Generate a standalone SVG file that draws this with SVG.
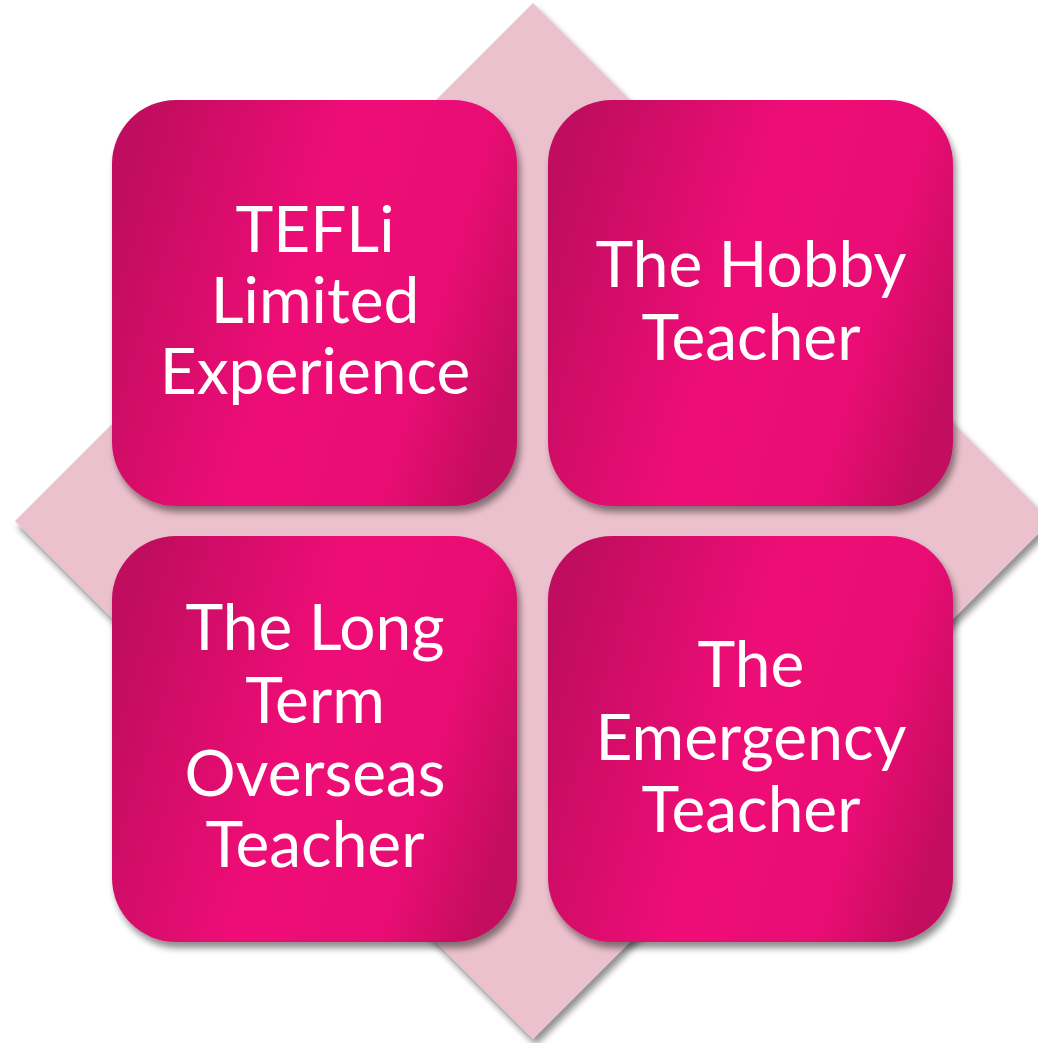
<svg xmlns="http://www.w3.org/2000/svg" width="1038" height="1043" viewBox="0 0 1038 1043">
  <defs>
    <linearGradient id="tileFill" x1="0" y1="0.35" x2="1" y2="0.65">
      <stop offset="0" stop-color="#c1105f"/>
      <stop offset="0.45" stop-color="#ee0a76"/>
      <stop offset="0.78" stop-color="#e90a73"/>
      <stop offset="1" stop-color="#c3105e"/>
    </linearGradient>
    <filter id="shadow" x="-10%" y="-10%" width="125%" height="125%">
      <feGaussianBlur in="SourceAlpha" stdDeviation="3.5"/>
      <feOffset dx="3" dy="6" result="off"/>
      <feComponentTransfer><feFuncA type="linear" slope="0.45"/></feComponentTransfer>
      <feMerge><feMergeNode/><feMergeNode in="SourceGraphic"/></feMerge>
    </filter>
    <style>
      .tile { fill: url(#tileFill); filter: url(#shadow); }
      .label { font-family: "Lato", "Open Sans", "Liberation Sans", sans-serif; font-size: 64px; fill: #ffffff; text-anchor: middle; }
    </style>
  </defs>

  <!-- background diamond -->
  <polygon id="diamond" points="533,3 1051,521 533,1039 15,521" fill="#ebc1cd" filter="url(#shadow)"/>

  <g id="tile-tefli">
    <rect class="tile" x="112" y="100" width="405" height="406" rx="64"/>
    <text class="label" x="315" y="252">TEFLi</text>
    <text class="label" x="315" y="323">Limited</text>
    <text class="label" x="315" y="394">Experience</text>
  </g>

  <g id="tile-hobby">
    <rect class="tile" x="548" y="100" width="405" height="406" rx="64"/>
    <text class="label" x="751" y="287">The Hobby</text>
    <text class="label" x="751" y="360">Teacher</text>
  </g>

  <g id="tile-long-term">
    <rect class="tile" x="112" y="536" width="405" height="406" rx="64"/>
    <text class="label" x="315" y="650">The Long</text>
    <text class="label" x="315" y="723">Term</text>
    <text class="label" x="315" y="796">Overseas</text>
    <text class="label" x="315" y="867">Teacher</text>
  </g>

  <g id="tile-emergency">
    <rect class="tile" x="548" y="536" width="405" height="406" rx="64"/>
    <text class="label" x="751" y="687">The</text>
    <text class="label" x="751" y="760">Emergency</text>
    <text class="label" x="751" y="832">Teacher</text>
  </g>

  <g id="connectors"/>
</svg>
